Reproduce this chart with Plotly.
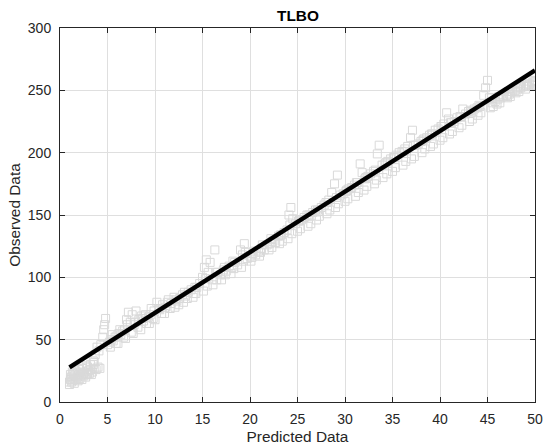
import plotly.graph_objects as go

title_text = "TLBO"
x_label = "Predicted Data"
y_label = "Observed Data"

predicted = [
    1.0, 1.1, 1.2, 1.3, 1.4, 1.5, 1.6, 1.8, 2.0, 2.2, 2.4, 2.6, 2.8, 3.0, 3.2, 3.4, 3.6, 3.8, 4.0, 4.2,
    3.5, 3.7, 3.9, 4.1, 4.3,
    4.5, 4.6, 4.7, 4.8,
    5.0, 5.2, 5.4, 5.6, 5.8, 6.0, 6.2, 6.4, 6.6, 6.8,
    7.0, 7.2, 7.4, 7.6, 7.8, 8.0, 8.3, 8.6,
    8.8, 9.0, 9.3, 9.6, 9.9,
    10.2, 10.5, 10.8, 11.1, 11.4, 11.7, 12.0, 12.3, 12.6, 12.9, 13.2, 13.5, 13.8, 14.1, 14.4, 14.7,
    15.0, 15.2, 15.4, 15.6, 15.8, 16.0, 16.3,
    16.6, 16.9, 17.2, 17.5, 17.8, 18.1, 18.4, 18.7,
    19.0, 19.2, 19.4,
    19.7, 20.0, 20.3, 20.6, 20.9, 21.2, 21.5, 21.8, 22.1, 22.4, 22.7, 23.0, 23.3, 23.6, 23.9,
    24.1, 24.3, 24.5,
    24.8, 25.1, 25.4, 25.7, 26.0, 26.3, 26.6, 26.9, 27.2, 27.5, 27.8,
    28.0, 28.3, 28.6, 28.9, 29.2, 29.5,
    29.8, 30.1, 30.4, 30.7, 31.0, 31.3,
    31.6, 31.8,
    32.1, 32.4, 32.7, 33.0,
    33.4, 33.6,
    33.9, 34.2, 34.5, 34.8, 35.1, 35.4, 35.7, 36.0, 36.3, 36.6,
    36.9, 37.1,
    37.4, 37.7, 38.0, 38.3, 38.6, 38.9, 39.2, 39.5, 39.8, 40.1, 40.4,
    40.7, 40.9,
    41.2, 41.5, 41.8, 42.1, 42.4, 42.7, 43.0, 43.3, 43.6, 43.9, 44.2,
    44.6, 44.8, 45.0, 45.2,
    45.5, 45.8, 46.1, 46.4, 46.7, 47.0, 47.3, 47.6, 47.9, 48.2, 48.5, 48.8, 49.1, 49.4, 49.7, 50.0,
    # lower layer of the band
    5.3, 6.1, 6.9, 7.7, 8.5, 9.4, 10.0, 11.0, 12.1, 13.0, 14.0, 15.1, 16.1, 17.0, 18.0, 19.1,
    20.1, 21.0, 22.0, 23.1, 24.0, 25.0, 26.1, 27.0, 28.1, 29.0, 30.0, 31.1, 32.0, 33.1, 34.0,
    35.0, 36.1, 37.0, 38.1, 39.0, 40.0, 41.0, 42.0, 43.1, 44.0, 45.3, 46.0, 47.1, 48.0, 49.0, 49.8,
    # extra points at the start of the band
    1.0, 1.2, 1.5, 1.7, 1.9, 2.1, 2.3, 2.5, 2.7, 2.9, 3.1, 3.3, 1.1, 1.4, 1.8, 2.3, 2.9, 3.5,
    1.3, 1.6, 2.0, 2.4, 2.8, 3.2, 3.6,
    # upper layer of the band
    5.5, 6.3, 7.1, 7.9, 8.7, 9.5, 10.4, 11.3, 12.2, 13.1, 14.2, 15.3, 16.4, 17.3, 18.2, 19.5,
    20.4, 21.3, 22.2, 23.2, 24.2, 25.2, 26.2, 27.1, 28.2, 29.1, 30.2, 31.2, 32.2, 33.2, 34.3,
    35.2, 36.2, 37.2, 38.2, 39.1, 40.2, 41.1, 42.2, 43.2, 44.1, 45.4, 46.2, 47.2, 48.1, 49.2, 49.9,
    # a further layer below the band
    5.9, 6.7, 7.5, 8.2, 9.1, 9.8, 10.7, 11.6, 12.5, 13.4, 14.3, 15.5, 16.5, 17.4, 18.3, 19.3,
    20.2, 21.1, 22.3, 23.4, 24.4, 25.3, 26.4, 27.3, 28.4, 29.3, 30.3, 31.4, 32.3, 33.3, 34.4,
    35.3, 36.4, 37.3, 38.4, 39.3, 40.3, 41.3, 42.3, 43.4, 44.3, 45.6, 46.3, 47.4, 48.3, 49.3, 50.0,
]

observed = [
    16, 18, 20, 17, 19, 21, 18, 20, 22, 21, 23, 24, 22, 25, 26, 24, 27, 26, 28, 27,
    33, 38, 44, 41, 46,
    52, 58, 62, 67,
    46, 48, 50, 49, 52, 53, 55, 54, 57, 58,
    66, 72, 64, 70, 62, 73, 66, 69,
    65, 70, 68, 75, 73,
    80, 74, 78, 76, 82, 79, 84, 81, 83, 86, 85, 88, 90, 87, 92, 95,
    100, 108, 114, 104, 112, 98, 122,
    104, 102, 106, 105, 109, 108, 112, 110,
    122, 118, 127,
    115, 117, 119, 118, 121, 123, 122, 126, 127, 129, 128, 133, 134, 136, 138,
    150, 156, 147,
    143, 145, 146, 148, 150, 149, 152, 154, 153, 156, 158,
    160, 162, 168, 175, 182, 166,
    167, 169, 171, 172, 174, 176,
    191, 184,
    179, 181, 183, 185,
    199, 206,
    190, 191, 193, 195, 196, 198, 200, 201, 203, 205,
    212, 218,
    206, 207, 209, 211, 212, 214, 215, 218, 219, 221, 223,
    232, 227,
    224, 225, 228, 229, 235, 231, 233, 232, 235, 236, 237,
    246, 252, 258, 244,
    240, 241, 243, 244, 245, 246, 247, 249, 250, 251, 252, 253, 254, 255, 256, 257,
    44, 47, 51, 55, 58, 63, 66, 71, 76, 80, 84, 89, 94, 98, 103, 108,
    113, 117, 122, 127, 131, 137, 141, 146, 151, 156, 161, 165, 170, 175, 180,
    185, 190, 195, 200, 205, 210, 215, 220, 225, 230, 236, 239, 244, 248, 251, 254,
    14, 16, 15, 18, 17, 19, 18, 21, 20, 22, 23, 22, 22, 23, 24, 27, 28, 30,
    24, 25, 26, 27, 29, 30, 32,
    54, 58, 62, 64, 67, 70, 75, 80, 82, 88, 92, 99, 104, 108, 113, 120,
    121, 126, 131, 134, 142, 146, 150, 154, 160, 164, 170, 176, 180, 186, 192,
    196, 201, 206, 210, 215, 221, 224, 229, 234, 238, 244, 245, 249, 252, 255, 258,
    47, 52, 56, 60, 63, 67, 71, 75, 78, 83, 87, 93, 98, 102, 107, 113,
    116, 120, 124, 129, 135, 139, 143, 149, 154, 159, 163, 168, 173, 178, 183,
    188, 193, 197, 203, 207, 212, 217, 222, 227, 232, 237, 240, 245, 249, 253, 255,
]

fit_x = [1.0, 50.0]
fit_y = [27.8, 266.0]

x_ticks = [0, 5, 10, 15, 20, 25, 30, 35, 40, 45, 50]
y_ticks = [0, 50, 100, 150, 200, 250, 300]

FONT = "Liberation Sans, Arial, Helvetica"
TEXT_COLOR = "rgb(38,38,38)"

fig = go.Figure()
fig.add_trace(go.Scatter(
    x=predicted, y=observed, mode="markers",
    marker=dict(symbol="square-open", size=8, color="rgb(217,217,217)",
                line=dict(width=1, color="rgb(217,217,217)")),
    showlegend=False, hoverinfo="skip",
))
fig.add_trace(go.Scatter(
    x=fit_x, y=fit_y, mode="lines",
    line=dict(color="black", width=4.5),
    showlegend=False,
))

axis_common = dict(
    showgrid=True, gridcolor="rgb(223,223,223)", gridwidth=1,
    showline=True, linecolor=TEXT_COLOR, linewidth=1, mirror="ticks",
    ticks="inside", ticklen=5, tickcolor=TEXT_COLOR, tickwidth=1,
    zeroline=False, automargin=False,
    tickfont=dict(family=FONT, size=14, color=TEXT_COLOR),
)

fig.update_layout(
    width=543, height=448,
    paper_bgcolor="white", plot_bgcolor="white",
    margin=dict(l=60, r=8, t=28, b=46),
    title=dict(text="<b>" + title_text + "</b>", x=0.5488, xanchor="center",
               y=0.9645, yanchor="middle",
               font=dict(family=FONT, size=15.4, color="black")),
    xaxis=dict(range=[0, 50], tickvals=x_ticks, ticklabelstandoff=4,
               title=dict(text=x_label, standoff=5,
                          font=dict(family=FONT, size=15.4, color=TEXT_COLOR)),
               **axis_common),
    yaxis=dict(range=[0, 300], tickvals=y_ticks, ticklabelstandoff=5,
               title=dict(text=y_label, standoff=3,
                          font=dict(family=FONT, size=15.4, color=TEXT_COLOR)),
               **axis_common),
)

# remove the default 8px page margin so the 543x448 figure fills the window
fig.write_html("out.html", config={"displayModeBar": False},
               post_script="document.body.style.margin='0';")
